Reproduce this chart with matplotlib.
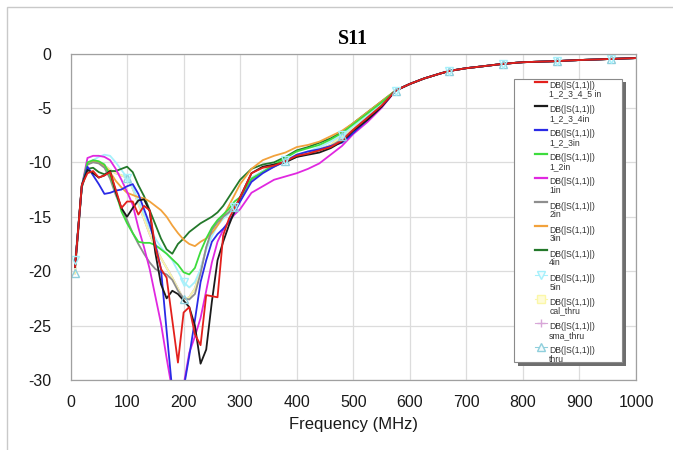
import numpy as np
import matplotlib

matplotlib.use("Agg")

from matplotlib import pyplot as plt
from matplotlib.lines import Line2D
from matplotlib.patches import Rectangle
from matplotlib.legend_handler import HandlerLine2D

plt.rcParams["font.family"] = ["Liberation Sans", "DejaVu Sans"]
plt.rcParams["axes.unicode_minus"] = False

# frequency grid (MHz) shared by all traces below 575 MHz
freq = [8, 20, 30, 40, 50, 60, 70, 80, 90, 100, 110, 120, 130, 140, 150, 160, 170,
        180, 190, 200, 210, 220, 230, 240, 250, 260, 270, 280, 290, 300, 320, 340,
        360, 380, 400, 420, 440, 460, 480, 500, 525, 550]

# above ~575 MHz every trace sits on the same curve
tail_freq = [575, 600, 625, 650, 670, 700, 725, 765, 800, 830, 860, 900, 930, 955, 1000]
tail_db = [-3.4, -2.8, -2.3, -1.9, -1.6, -1.35, -1.2, -0.95, -0.8, -0.75, -0.7, -0.6,
           -0.55, -0.5, -0.42]

red_db = [-19.6, -12.1, -11.0, -10.8, -11.4, -11.2, -10.9, -12.5, -14.2, -13.6, -13.6,
          -14.8, -14.0, -14.4, -17.8, -19.8, -20.6, -24.5, -28.4, -23.8, -23.3, -25.8,
          -26.8, -22.2, -22.3, -22.4, -16.7, -15.2, -14.2, -13.2, -11.0, -10.5, -10.3,
          -9.9, -9.4, -9.2, -8.9, -8.6, -8.0, -7.0, -5.9, -4.8]
black_db = [-19.6, -12.1, -10.7, -11.0, -11.4, -11.2, -10.8, -12.7, -14.2, -15.0, -14.2,
            -13.5, -13.4, -14.5, -18.3, -21.2, -22.5, -21.8, -22.1, -22.7, -23.3, -25.0,
            -28.5, -27.2, -22.8, -19.0, -17.3, -15.8, -14.5, -13.2, -11.0, -10.4, -10.2,
            -10.0, -9.5, -9.3, -9.1, -8.7, -8.1, -7.1, -6.1, -4.9]
blue_db = [-19.6, -12.2, -10.4, -11.2, -12.0, -12.9, -12.8, -12.6, -12.5, -12.2, -12.0,
           -12.9, -14.3, -15.7, -17.5, -19.8, -25.5, -31.0, -31.5, -30.8, -27.8, -24.5,
           -21.0, -19.0, -17.3, -16.6, -16.1, -15.5, -14.6, -13.6, -11.8, -11.0, -10.4,
           -9.9, -9.3, -9.0, -8.8, -8.5, -8.2, -7.3, -6.1, -4.9]
green_db = [-19.6, -12.2, -10.0, -9.8, -9.9, -10.2, -11.2, -12.7, -14.5, -15.6, -16.5,
            -17.3, -17.4, -17.4, -17.6, -18.0, -18.4, -18.9, -19.4, -20.1, -20.3, -19.7,
            -18.2, -17.0, -16.0, -15.3, -14.8, -14.3, -13.6, -13.2, -11.5, -10.9, -10.2,
            -9.6, -9.0, -8.7, -8.4, -7.9, -7.3, -6.5, -5.5, -4.5]
magenta_db = [-19.6, -12.2, -9.6, -9.4, -9.4, -9.5, -9.8, -10.6, -11.6, -12.7, -13.9,
              -16.0, -17.8, -19.8, -22.3, -24.8, -28.0, -31.0, -31.5, -30.5, -27.5, -26.0,
              -24.3, -21.8, -19.2, -17.3, -16.2, -15.4, -14.8, -14.3, -12.8, -12.2, -11.6,
              -11.3, -11.0, -10.6, -10.1, -9.3, -8.5, -7.4, -6.3, -5.0]
gray_db = [-19.6, -12.2, -10.2, -10.0, -10.1, -10.5, -11.5, -13.0, -14.2, -15.3, -16.5,
           -17.5, -18.4, -19.2, -19.8, -20.1, -20.3, -20.8, -21.8, -22.5, -22.6, -22.1,
           -20.2, -17.8, -16.2, -15.5, -15.0, -14.6, -14.0, -13.4, -11.6, -10.9, -10.4,
           -9.9, -9.5, -9.2, -8.9, -8.5, -7.9, -7.0, -5.9, -4.8]
orange_db = [-19.6, -12.2, -10.2, -9.9, -10.0, -10.3, -10.9, -11.7, -12.3, -12.8, -13.0,
             -13.2, -13.3, -13.6, -14.0, -14.4, -15.0, -15.8, -16.5, -17.1, -17.5, -17.7,
             -17.3, -17.0, -16.5, -15.8, -15.0, -14.0, -13.0, -12.0, -10.6, -9.8, -9.4,
             -9.1, -8.6, -8.4, -8.1, -7.6, -7.1, -6.4, -5.4, -4.4]
dkgreen_db = [-19.6, -12.3, -10.6, -10.5, -10.9, -11.1, -10.8, -10.8, -10.6, -10.4, -10.9,
              -12.1, -13.1, -14.4, -15.7, -17.0, -18.0, -18.4, -17.5, -17.0, -16.4, -16.0,
              -15.6, -15.3, -15.0, -14.6, -14.0, -13.2, -12.4, -11.6, -10.6, -10.2, -10.0,
              -9.5, -8.9, -8.6, -8.2, -7.8, -7.2, -6.4, -5.4, -4.4]
cyan_db = [-19.0, -12.2, -10.2, -9.8, -9.5, -9.3, -9.4, -10.0, -10.7, -11.4, -12.3,
           -13.5, -14.8, -16.0, -17.0, -17.8, -18.4, -19.0, -20.0, -21.0, -21.5, -21.0,
           -19.8, -18.0, -16.8, -15.8, -15.2, -14.7, -14.1, -13.5, -11.4, -10.8, -10.3,
           -9.8, -9.3, -9.0, -8.6, -8.1, -7.5, -6.7, -5.7, -4.6]
# thru, cal_thru and sma_thru lie on top of each other
thru_db = [-20.2, -12.2, -10.1, -9.9, -10.0, -10.3, -10.7, -11.0, -11.2, -11.4, -12.4,
           -13.8, -15.2, -16.6, -17.8, -18.8, -19.7, -20.6, -21.6, -22.6, -22.4, -21.6,
           -19.9, -17.9, -16.4, -15.6, -15.0, -14.6, -14.1, -13.5, -11.5, -10.8, -10.3,
           -9.9, -9.4, -9.1, -8.8, -8.4, -7.6, -6.8, -5.7, -4.6]

# frequencies where the measurement tool drew symbol markers
marker_freq = [8, 100, 200, 290, 380, 480, 575, 670, 765, 860, 955]

labels = ["DB(|S(1,1)|)\n1_2_3_4_5 in", "DB(|S(1,1)|)\n1_2_3_4in", "DB(|S(1,1)|)\n1_2_3in",
          "DB(|S(1,1)|)\n1_2in", "DB(|S(1,1)|)\n1in", "DB(|S(1,1)|)\n2in",
          "DB(|S(1,1)|)\n3in", "DB(|S(1,1)|)\n4in", "DB(|S(1,1)|)\n5in",
          "DB(|S(1,1)|)\ncal_thru", "DB(|S(1,1)|)\nsma_thru", "DB(|S(1,1)|)\nthru"]
series = [red_db, black_db, blue_db, green_db, magenta_db, gray_db, orange_db,
          dkgreen_db, cyan_db, thru_db, thru_db, thru_db]

COLORS = ["#e3201c", "#1b1b1b", "#2a2ae6", "#3ddc3d", "#e028e0", "#8e8e8e",
          "#f2a23c", "#23782a", "#a6f0fb", "#fbf7a8", "#d8a6d8", "#8fcfdc"]
MARKERS = [None, None, None, None, None, None, None, None, "v", "s", "+", "^"]
MARKER_FACE = {"v": "#effcfe", "s": "#fefbd8", "+": "#d8a6d8", "^": "#f2fafc"}
# only these symbols are visible on the traces; the others hide underneath
PLOT_MARKERS = {"v", "^"}


class FirstLineHandler(HandlerLine2D):
    # put the legend swatch next to the first of the two label lines
    def create_artists(self, legend, orig_handle, xdescent, ydescent, width, height,
                       fontsize, trans):
        artists = super().create_artists(legend, orig_handle, xdescent, ydescent,
                                         width, height, fontsize, trans)
        for artist in artists:
            artist.set_ydata(np.asarray(artist.get_ydata()) + 1.0 * fontsize)
        return artists


def main() -> None:
    fig = plt.figure(figsize=(6.73, 4.5), dpi=100)
    fig.patches.append(Rectangle((6.5 / 673, -0.01), 1.2, 443 / 450 + 0.01,
                                 transform=fig.transFigure, fill=False,
                                 edgecolor="#c9c9c9", linewidth=1.0))
    ax = fig.add_axes([70.5 / 673, 1 - 380 / 450, 565.5 / 673, 326.5 / 450])

    all_freq = freq + tail_freq
    mark_idx = [all_freq.index(f) for f in marker_freq]

    n = len(series)
    # draw from the bottom of the legend upwards so the red trace ends on top
    for k in range(n - 1, -1, -1):
        values = series[k] + tail_db
        z = 2 + (n - k) * 0.01
        ax.plot(all_freq, values, color=COLORS[k], linewidth=1.3, zorder=z)
        if MARKERS[k] in PLOT_MARKERS:
            ax.plot([all_freq[i] for i in mark_idx], [values[i] for i in mark_idx],
                    linestyle="none", marker=MARKERS[k], markersize=6,
                    markeredgecolor=COLORS[k], markerfacecolor="none",
                    markeredgewidth=1.0, zorder=2.5)

    handles = []
    for k in range(n):
        if MARKERS[k] is None:
            h = Line2D([], [], color=COLORS[k], linewidth=1.6)
        else:
            h = Line2D([], [], color=COLORS[k], linewidth=0.8, marker=MARKERS[k],
                       markersize=6, markeredgecolor=COLORS[k],
                       markerfacecolor=MARKER_FACE[MARKERS[k]])
        handles.append(h)

    ax.set_xlim(0, 1000)
    ax.set_ylim(-30, 0)
    ax.set_xticks(range(0, 1001, 100))
    ax.set_yticks(range(-30, 1, 5))
    ax.grid(color="#dcdcdc", linewidth=0.9)
    ax.set_axisbelow(True)
    for spine in ax.spines.values():
        spine.set_color("#a0a0a0")
        spine.set_linewidth(0.9)
    ax.tick_params(axis="both", length=0, labelsize=11.5, colors="#1a1a1a")
    ax.tick_params(axis="x", pad=11)
    ax.tick_params(axis="y", pad=14)
    ax.set_xlabel("Frequency (MHz)", fontsize=12, labelpad=5, color="#1a1a1a")
    ax.set_title("S11", fontsize=14.5, fontweight="bold", family="Liberation Serif",
                 pad=7)

    # legend frame with drop shadow
    fx0 = (514 - 70.5) / 565.5
    fx1 = (622 - 70.5) / 565.5
    fy0 = (380 - 362) / 326.5
    fy1 = (380 - 79) / 326.5
    ax.add_patch(Rectangle((fx0 + 3.5 / 565.5, fy0 - 3.5 / 326.5), fx1 - fx0, fy1 - fy0,
                           transform=ax.transAxes, facecolor="#6e6e6e", edgecolor="none",
                           clip_on=False, zorder=4))
    ax.add_patch(Rectangle((fx0, fy0), fx1 - fx0, fy1 - fy0, transform=ax.transAxes,
                           facecolor="white", edgecolor="#8a8a8a", linewidth=0.8,
                           clip_on=False, zorder=4.1))

    leg = ax.legend(handles, labels, loc="upper left",
                    bbox_to_anchor=((535 - 70.5) / 565.5, (380 - 81) / 326.5),
                    frameon=False, fontsize=6.2, numpoints=1, handlelength=1.4,
                    handletextpad=0.25, borderpad=0, borderaxespad=0, labelspacing=0.75,
                    handler_map={Line2D: FirstLineHandler()})
    leg.set_zorder(5)
    for text in leg.get_texts():
        text.set_linespacing(0.95)
        text.set_color("#333333")

    fig.savefig("out.png", dpi=100)


if __name__ == "__main__":
    main()
